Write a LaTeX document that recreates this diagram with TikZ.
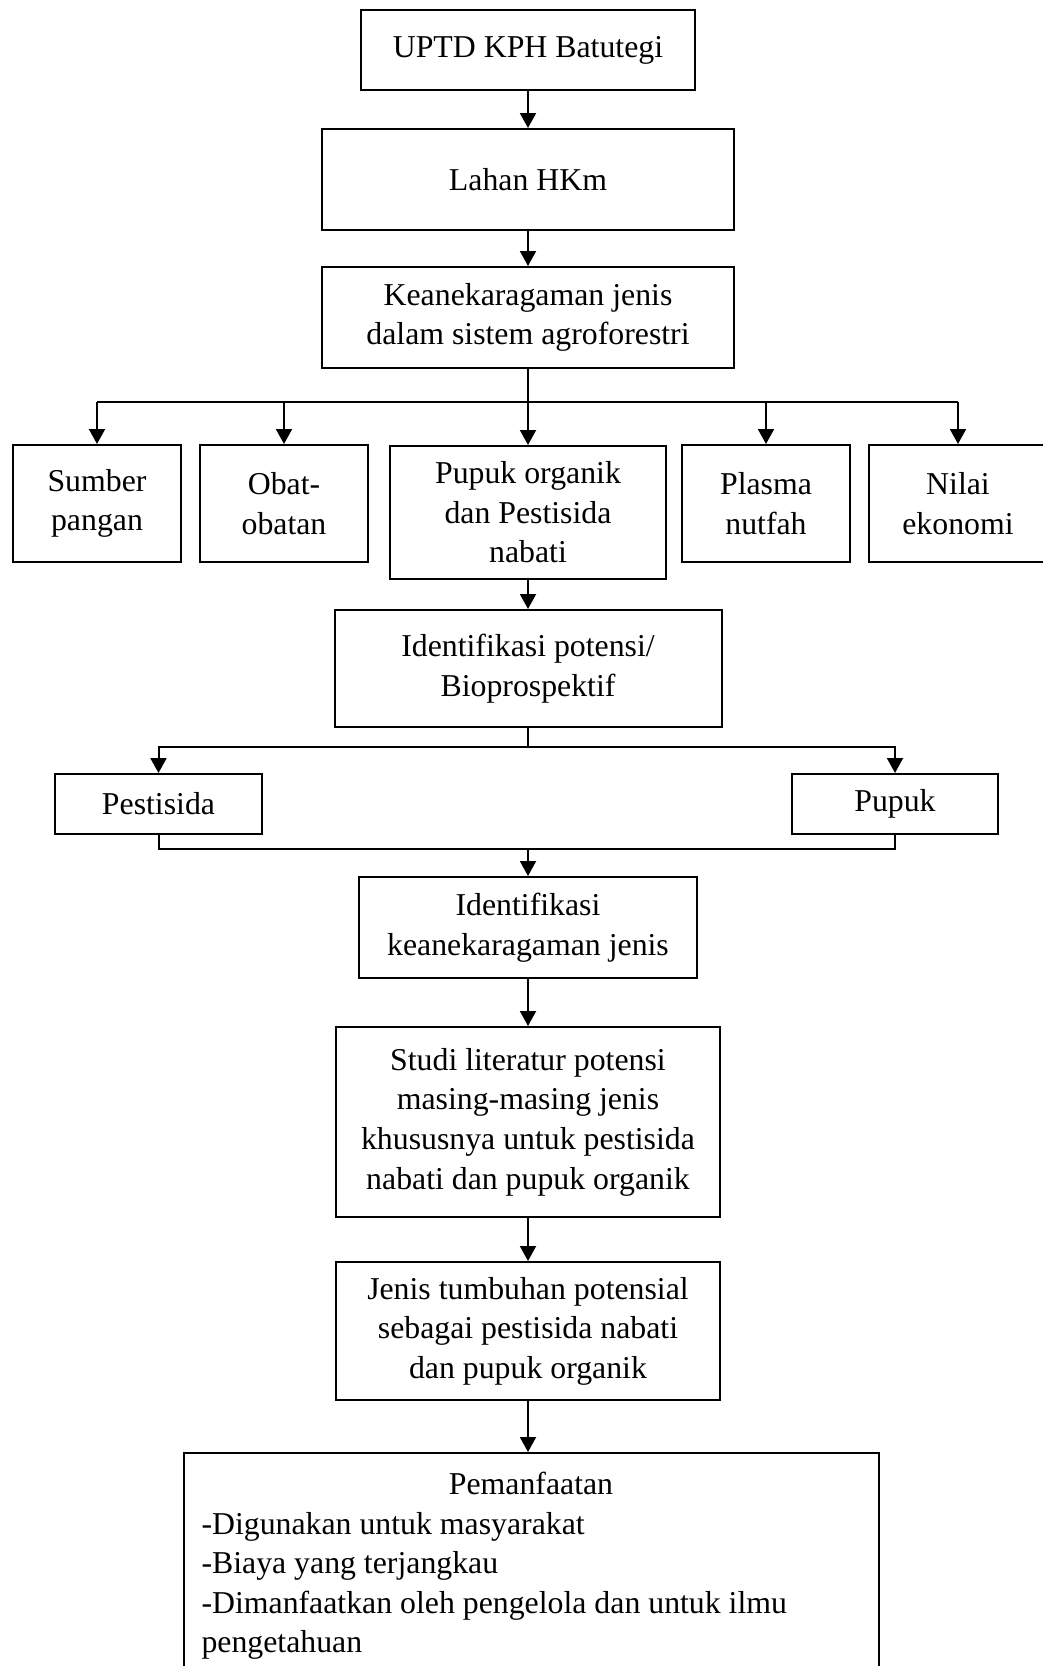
\documentclass[tikz,border=0pt]{standalone}
\usepackage{fontspec}
\setmainfont{Liberation Serif}
\usetikzlibrary{arrows.meta,positioning,calc}

\begin{document}
\begin{tikzpicture}[x=0.5pt, y=-0.5pt,
    box/.style={rectangle, draw, line width=1pt, inner sep=0pt, font=\fontsize{15.9pt}{19.8pt}\selectfont, align=center},
    sbox/.style={box, minimum width=84pt, minimum height=58.5pt},
    arrow/.style={-{Triangle[length=7.5pt,width=8pt]}, line width=1pt},
    line/.style={line width=1pt}
]
\useasboundingbox (0,0) rectangle (1043,1666);
\clip (0,0) rectangle (1043,1666);

% top column
\node[box, minimum width=167pt, minimum height=40pt] (uptd) at (528,50) {UPTD KPH Batutegi};
\node[box, minimum width=206pt, minimum height=50.5pt] (lahan) at (528,179.5) {Lahan HKm};
\node[box, minimum width=206pt, minimum height=50.5pt] (keragaman) at (528,317.5) {Keanekaragaman jenis\\dalam sistem agroforestri};
\draw[arrow] (uptd) -- (lahan);
\draw[arrow] (lahan) -- (keragaman);

% five uses
\node[sbox] (sumber) at (97,503.5) {Sumber\\pangan};
\node[sbox] (obat) at (284,503.5) {Obat-\\obatan};
\node[box, minimum width=138pt, minimum height=66.5pt] (pupukorg) at (528,512.5) {Pupuk organik\\dan Pestisida\\nabati};
\node[sbox] (plasma) at (766,503.5) {Plasma\\nutfah};
\node[sbox, minimum width=89pt] (nilai) at (958,503.5) {Nilai\\ekonomi};
\coordinate (cabang) at (528,402);
\draw[line] (cabang -| sumber) -- (cabang -| nilai);
\foreach \n in {sumber, obat, plasma, nilai}
    \draw[arrow] (cabang -| \n) -- (\n);
\draw[arrow] (keragaman) -- (pupukorg);

% bioprospecting
\node[box, minimum width=193.5pt, minimum height=58.5pt] (potensi) at (528,668.5) {Identifikasi potensi/\\Bioprospektif};
\node[box, minimum width=103.5pt, minimum height=30pt] (pestisida) at (158.5,804) {Pestisida};
\node[box, minimum width=103pt, minimum height=30pt] (pupuk) at (895,804) {Pupuk};
\draw[arrow] (pupukorg) -- (potensi);
\coordinate (cabang2) at (528,747);
\draw[line] (potensi) -- (cabang2);
\draw[arrow] (cabang2) -| (pestisida);
\draw[arrow] (cabang2) -| (pupuk);
\coordinate (gabung) at (528,849);
\draw[line] (pestisida) |- (gabung);
\draw[line] (pupuk) |- (gabung);

% bottom column
\node[box, minimum width=169pt, minimum height=50.5pt] (identifikasi) at (528,927.5) {Identifikasi\\keanekaragaman jenis};
\node[box, minimum width=192pt, minimum height=95pt] (studi) at (528,1122) {Studi literatur potensi\\masing-masing jenis\\khususnya untuk pestisida\\nabati dan pupuk organik};
\node[box, minimum width=192pt, minimum height=69pt] (jenis) at (528,1331) {Jenis tumbuhan potensial\\sebagai pestisida nabati\\dan pupuk organik};
\node[box, anchor=north, minimum width=347.5pt, inner xsep=9pt, inner ysep=9.5pt] (manfaat) at (531,1452)
    {\parbox[c][112pt][t]{329.5pt}{\centering Pemanfaatan\par
     \raggedright -Digunakan untuk masyarakat\\
     -Biaya yang terjangkau\\
     -Dimanfaatkan oleh pengelola dan untuk ilmu\\
     pengetahuan}};
\draw[arrow] (gabung) -- (identifikasi);
\draw[arrow] (identifikasi) -- (studi);
\draw[arrow] (studi) -- (jenis);
\draw[arrow] (jenis) -- (jenis |- manfaat.north);

\end{tikzpicture}
\end{document}
